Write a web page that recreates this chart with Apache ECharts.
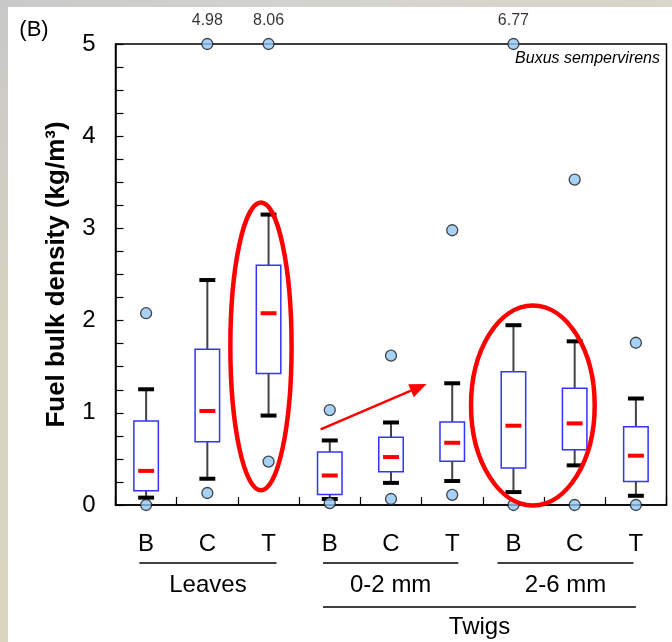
<!DOCTYPE html>
<html><head><meta charset="utf-8">
<script src="https://cdn.jsdelivr.net/npm/echarts@6/dist/echarts.min.js"></script>
<style>html,body{margin:0;padding:0;background:#fff}#c{width:672px;height:642px}</style>
</head><body><div id="c"></div>
<script>
// ---- data ----
const categories = ['B','C','T','B','C','T','B','C','T'];
const groups = ['Leaves','0-2 mm','2-6 mm'];
const superGroup = 'Twigs';
const lowerWhisker = [0.08, 0.285, 0.97, 0.065, 0.24, 0.26, 0.14, 0.43, 0.10];
const q1           = [0.155,0.685, 1.425,0.115, 0.36, 0.475,0.40, 0.60, 0.255];
const median       = [0.37, 1.02,  2.08, 0.32,  0.52, 0.675,0.86, 0.885,0.535];
const q3           = [0.91, 1.69,  2.60, 0.575, 0.735,0.90, 1.445,1.265,0.85];
const upperWhisker = [1.255,2.44,  3.15, 0.70,  0.895,1.32, 1.95, 1.775,1.155];
const outlierIdx   = [0, 0,    1,    1,    2,    2,    3,    3,    4,    4,     5,    5,    6,    6,   7,    7,   8,    8];
const outlierVal   = [2.08,0.0, 4.98, 0.13, 8.06, 0.47, 1.03, 0.02, 1.62, 0.065, 2.98, 0.11, 6.77, 0.0, 3.53, 0.0, 1.76, 0.0];
const yTicks = [0,1,2,3,4,5];
const yMax = 5;
const labelFrom = 4.9; // outliers at/above the top edge get their value printed

const FONT = '"Liberation Sans", Arial, sans-serif';
const ids = categories.map((c,i)=> i + ':' + c);

const chart = echarts.init(document.getElementById('c'), null, {renderer:'canvas'});

const boxData = categories.map((c,i)=>[i, lowerWhisker[i], q1[i], median[i], q3[i], upperWhisker[i]]);
const scatterData = outlierIdx.map((i,k)=>({
  value:[i, outlierVal[k] >= labelFrom ? yMax : outlierVal[k]],
  label:{show: outlierVal[k] >= labelFrom, formatter: outlierVal[k].toFixed(2)}
}));

function renderBox(params, api){
  const i = api.value(0);
  const band = api.size([1,0])[0];
  const x = api.coord([i,0])[0];
  const yLo = api.coord([i, api.value(1)])[1];
  const yQ1 = api.coord([i, api.value(2)])[1];
  const yMed = api.coord([i, api.value(3)])[1];
  const yQ3 = api.coord([i, api.value(4)])[1];
  const yHi = api.coord([i, api.value(5)])[1];
  const bw = band*0.40, cw = band*0.26;
  return {type:'group', children:[
    {type:'line', shape:{x1:x,y1:yHi,x2:x,y2:yQ3}, style:{stroke:'#444',lineWidth:2}},
    {type:'line', shape:{x1:x,y1:yQ1,x2:x,y2:yLo}, style:{stroke:'#444',lineWidth:2}},
    {type:'rect', shape:{x:x-bw/2,y:yQ3,width:bw,height:yQ1-yQ3}, style:{fill:'#fff',stroke:'#3333ff',lineWidth:1.5}},
    {type:'line', shape:{x1:x-cw/2,y1:yHi,x2:x+cw/2,y2:yHi}, style:{stroke:'#000',lineWidth:4}},
    {type:'line', shape:{x1:x-cw/2,y1:yLo,x2:x+cw/2,y2:yLo}, style:{stroke:'#000',lineWidth:4}},
    {type:'line', shape:{x1:x-cw/2,y1:yMed,x2:x+cw/2,y2:yMed}, style:{stroke:'#ff0000',lineWidth:4}}
  ]};
}

chart.setOption({
  animation:false,
  backgroundColor:'#fff',
  grid:{left:115.5, right:5.5, top:44, bottom:137, show:true, borderColor:'#000', borderWidth:1.5, backgroundColor:'transparent'},
  xAxis:{type:'category', data:ids, boundaryGap:true,
    axisLine:{show:true,lineStyle:{color:'#000',width:1.5}},
    axisTick:{show:true,inside:true,length:8,lineStyle:{color:'#000',width:1.2}},
    axisLabel:{formatter:v=>v.split(':')[1], fontSize:24, fontFamily:FONT, color:'#000', margin:27},
    splitLine:{show:false}},
  yAxis:{type:'value', min:0, max:yMax, interval:0.25,
    axisLine:{show:true,lineStyle:{color:'#000',width:1.5}},
    axisTick:{show:true,inside:true,length:8,lineStyle:{color:'#000',width:1.2}},
    axisLabel:{formatter:v=> yTicks.includes(v) ? String(v) : '', fontSize:24, fontFamily:FONT, color:'#000', margin:20},
    splitLine:{show:false},
    name:'Fuel bulk density (kg/m³)', nameLocation:'middle', nameGap:46,
    nameTextStyle:{fontSize:26, fontWeight:'bold', fontFamily:FONT, color:'#000'}},
  series:[
    {type:'custom', renderItem:renderBox, data:boxData, z:2, clip:false},
    {type:'scatter', data:scatterData, symbol:'circle', symbolSize:11, z:5, clip:false,
      itemStyle:{color:'#92c5f5', borderColor:'#1a1a1a', borderWidth:1.3},
      label:{position:'top', distance:9, fontSize:16, fontFamily:FONT, color:'#000'},
      labelLayout:{hideOverlap:false}}
  ]
});

// ---- annotations & group labels ----
const p0 = chart.convertToPixel({xAxisIndex:0,yAxisIndex:0},[0,0]);
const p1 = chart.convertToPixel({xAxisIndex:0,yAxisIndex:0},[1,1]);
const band = p1[0]-p0[0], unit = p0[1]-p1[1];
const px = (i,v)=>[p0[0]+i*band, p0[1]-v*unit];
const axisY = p0[1];
const g = [];
// background bands
g.push({type:'rect', z:-10, shape:{x:0,y:0,width:672,height:7},
  style:{fill:new echarts.graphic.LinearGradient(0,0,1,0,[{offset:0,color:'#c9c9c9'},{offset:0.5,color:'#d4d4cf'},{offset:1,color:'#d8d6c8'}])}});
g.push({type:'rect', z:-10, shape:{x:0,y:0,width:8,height:642},
  style:{fill:new echarts.graphic.LinearGradient(0,0,0,1,[{offset:0,color:'#c8c8c8'},{offset:0.5,color:'#d6d3c0'},{offset:1,color:'#d9d5bf'}])}});
// panel label
g.push({type:'text', style:{text:'(B)', x:34, y:30, align:'center', verticalAlign:'middle', fontSize:22, fontFamily:FONT, fill:'#000'}});
// species
g.push({type:'text', style:{text:'Buxus sempervirens', x:660, y:59, align:'right', verticalAlign:'middle', fontSize:16, fontStyle:'italic', fontFamily:FONT, fill:'#000'}});
// ellipses
const e1c = px(1.876, 1.72);
g.push({type:'ellipse', z:10, shape:{cx:e1c[0], cy:e1c[1], rx:0.5*band, ry:1.56*unit}, style:{fill:'none', stroke:'#ff0000', lineWidth:4.5}});
const e2c = px(6.317, 1.08);
g.push({type:'ellipse', z:10, shape:{cx:e2c[0], cy:e2c[1], rx:1.01*band, ry:1.085*unit}, style:{fill:'none', stroke:'#ff0000', lineWidth:4.5}});
// arrow
const a0 = px(2.851, 0.821), a1 = px(4.582, 1.312);
const ang = Math.atan2(a1[1]-a0[1], a1[0]-a0[0]);
const hl = 17, hw = 7;
const base = [a1[0]-hl*Math.cos(ang), a1[1]-hl*Math.sin(ang)];
g.push({type:'line', z:10, shape:{x1:a0[0],y1:a0[1],x2:base[0],y2:base[1]}, style:{stroke:'#ff0000', lineWidth:2.5}});
g.push({type:'polygon', z:10, shape:{points:[a1,[base[0]+hw*Math.sin(ang), base[1]-hw*Math.cos(ang)],[base[0]-hw*Math.sin(ang), base[1]+hw*Math.cos(ang)]]}, style:{fill:'#ff0000'}});
// group underlines and names
const spans = [[-0.11, 2.13], [-0.11, 2.1], [-0.26, 1.96]];
groups.forEach((name, gi)=>{
  const s = px(gi*3 + spans[gi][0], 0)[0], e = px(gi*3 + spans[gi][1], 0)[0];
  g.push({type:'line', shape:{x1:s,y1:axisY+58,x2:e,y2:axisY+58}, style:{stroke:'#000', lineWidth:1.3}});
  g.push({type:'text', style:{text:name, x:(s+e)/2, y:axisY+80, align:'center', verticalAlign:'middle', fontSize:24, fontFamily:FONT, fill:'#000'}});
});
const ts = px(3-0.11,0)[0], te = px(8+0.0,0)[0];
g.push({type:'line', shape:{x1:ts,y1:axisY+102,x2:te,y2:axisY+102}, style:{stroke:'#000', lineWidth:1.3}});
g.push({type:'text', style:{text:superGroup, x:(ts+te)/2, y:axisY+122, align:'center', verticalAlign:'middle', fontSize:24, fontFamily:FONT, fill:'#000'}});
chart.setOption({graphic:g});
</script></body></html>
